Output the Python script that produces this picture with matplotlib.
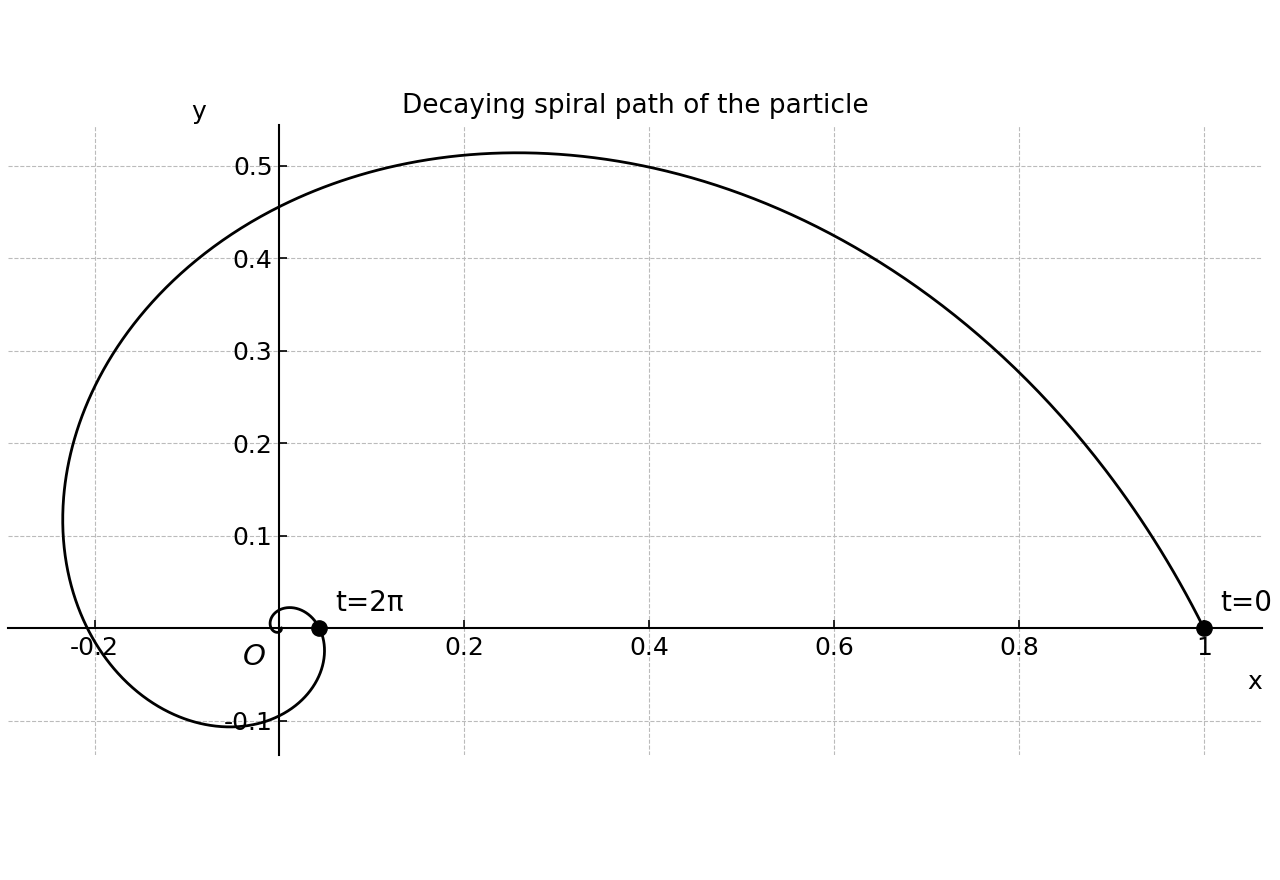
import numpy as np
import matplotlib
matplotlib.use("Agg")
import matplotlib.pyplot as plt
from matplotlib.ticker import FuncFormatter

# spiral r = exp(-decay * t); decay read from r(2π) ≈ 0.043 on the x axis
decay = 0.5
t_end = 4 * np.pi
marked_t = [0, 2 * np.pi]
marked_labels = ["t=0", "t=2π"]

x_ticks = [-0.2, 0.2, 0.4, 0.6, 0.8, 1.0]
y_ticks = [-0.1, 0.1, 0.2, 0.3, 0.4, 0.5]

t = np.linspace(0, t_end, 2000)
r = np.exp(-decay * t)
xs = r * np.cos(t)
ys = r * np.sin(t)

fig = plt.figure(figsize=(12.8, 8.8), dpi=100)
ax = fig.add_axes([0.006, 0.142, 0.98, 0.716])

ax.plot(xs, ys, color="black", lw=2)

for tm, lab in zip(marked_t, marked_labels):
    px = np.exp(-decay * tm) * np.cos(tm)
    py = np.exp(-decay * tm) * np.sin(tm)
    ax.plot(px, py, "o", color="black", ms=11, zorder=5)
    ax.annotate(lab, (px, py), xytext=(11.5, 12), textcoords="offset points",
                fontsize=20)

ax.set_xlim(-0.294, 1.063)
ax.set_ylim(-0.137, 0.544)
ax.set_aspect("equal", adjustable="box")

ax.spines["left"].set_position(("data", 0))
ax.spines["bottom"].set_position(("data", 0))
ax.spines["right"].set_visible(False)
ax.spines["top"].set_visible(False)
for s in ("left", "bottom"):
    ax.spines[s].set_linewidth(1.5)

ax.set_xticks(x_ticks)
ax.set_yticks(y_ticks)
fmt = FuncFormatter(lambda v, p: f"{v:g}")
ax.xaxis.set_major_formatter(fmt)
ax.yaxis.set_major_formatter(fmt)
ax.tick_params(direction="in", labelsize=18, length=6, width=1.2)
ax.tick_params(axis="x", pad=6)
ax.tick_params(axis="y", pad=5)
ax.grid(True, linestyle="--", color="#bbbbbb", lw=0.8)

ax.text(-0.027, -0.016, "O", fontsize=21, style="italic", ha="center", va="top")
ax.text(1.055, -0.045, "x", fontsize=18, ha="center", va="top")
ax.text(-0.087, 0.545, "y", fontsize=18, ha="center", va="bottom")

ax.set_title("Decaying spiral path of the particle", fontsize=19, pad=9)

fig.savefig("out.png", dpi=100)
